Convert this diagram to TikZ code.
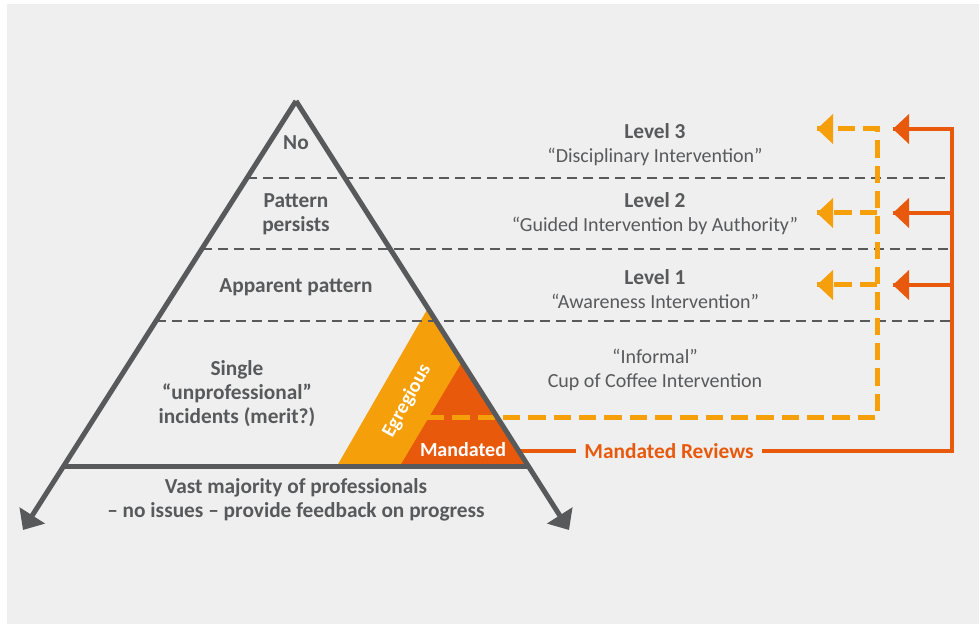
\documentclass[tikz,border=0pt]{standalone}
\usepackage{fontspec}
\setmainfont{Carlito}
\usetikzlibrary{arrows.meta,positioning}
\definecolor{bggray}{HTML}{EFEFEF}
\definecolor{ink}{HTML}{58595B}
\definecolor{mandorange}{HTML}{E8590C}
\definecolor{egyellow}{HTML}{F5A00A}
\newcommand{\lvlhead}[1]{{\fontsize{16}{18}\selectfont\bfseries #1}}
\tikzset{
  tri/.style={ink, line width=3.75pt, line join=miter},
  levelline/.style={ink, line width=2pt, dash pattern=on 7.5pt off 4.5pt},
  egpath/.style={egyellow, line width=3.75pt, dash pattern=on 13pt off 6pt},
  mandpath/.style={mandorange, line width=3pt},
  tiplabel/.style={font=\fontsize{16}{18}\selectfont\bfseries, text=ink, align=center},
  sidelabel/.style={font=\fontsize{15}{18}\selectfont, text=ink, align=center},
  whitelabel/.style={font=\fontsize{15}{18}\selectfont\bfseries, text=white, inner sep=0pt},
}
\begin{document}
\begin{tikzpicture}[x=0.75pt, y=-0.75pt]
  \useasboundingbox (0,0) rectangle (979,624);
  \fill[white] (0,0) rectangle (979,624);
  \fill[bggray] (7,4) rectangle (979,624);

  % pyramid corners
  \coordinate (apex) at (296,101);
  \coordinate (tipL) at (23,530);
  \coordinate (tipR) at (569,530);
  \coordinate (baseL) at (64,466);
  \coordinate (baseR) at (528,466);

  % egregious / mandated wedges
  \fill[egyellow] (428,308) -- (337,466) -- (baseR) -- cycle;
  \fill[mandorange] (462,362) -- (400,466) -- (baseR) -- cycle;

  % level separators
  \draw[levelline] (247,178) -- (950,178);
  \draw[levelline] (202,249) -- (950,249);
  \draw[levelline] (156,321) -- (950,321);

  % egregious route (dashed)
  \coordinate (egstart) at (427,417);
  \coordinate (egcorner) at (877,417);
  \coordinate (egtop) at (877,129);
  \draw[egpath] (egstart) -- (egcorner) -- (egtop)
    -- (817,129) node[coordinate] (eg3) {};
  \foreach \y/\n in {213/2, 285/1}
    \draw[egpath] (877,\y) -- (817,\y) node[coordinate] (eg\n) {};
  \foreach \n in {1,2,3}
    \fill[egyellow] (eg\n) -- ++(16,-15) -- ++(0,30) -- cycle;

  % mandated reviews route
  \node[font=\fontsize{16}{18}\selectfont\bfseries, text=mandorange, inner xsep=6pt]
    (reviews) at (669,451) {Mandated Reviews};
  \draw[mandpath] (519,451) -- (reviews.west);
  \draw[mandpath] (reviews.east) -- (952,451) -- (952,129)
    -- (893,129) node[coordinate] (md3) {};
  \foreach \y/\n in {213/2, 285/1}
    \draw[mandpath] (952,\y) -- (893,\y) node[coordinate] (md\n) {};
  \foreach \n in {1,2,3}
    \fill[mandorange] (md\n) -- ++(16,-15) -- ++(0,30) -- cycle;

  % pyramid
  \draw[tri, -{Triangle[length=13pt,width=22pt]}] (apex) -- (tipL);
  \draw[tri, -{Triangle[length=13pt,width=22pt]}] (apex) -- (tipR);
  \draw[tri] (baseL) -- (baseR);

  % pyramid labels
  \node[tiplabel] (no) at (296,143) {No};
  \node[tiplabel] (persists) at (296,214) {Pattern\\persists};
  \node[tiplabel] (apparent) at (296,287) {Apparent pattern};
  \node[tiplabel] (single) at (237,394) {Single\\“unprofessional”\\incidents (merit?)};
  \node[tiplabel] (vast) at (296,500) {Vast majority of professionals\\– no issues – provide feedback on progress};
  \node[whitelabel, rotate=61] (egregious) at (407,401) {Egregious};
  \node[whitelabel] (mandated) at (463,450) {Mandated};

  % intervention levels
  \node[sidelabel] (lvl3) at (655,145) {\lvlhead{Level 3}\\“Disciplinary Intervention”};
  \node[sidelabel] (lvl2) at (655,214) {\lvlhead{Level 2}\\“Guided Intervention by Authority”};
  \node[sidelabel] (lvl1) at (655,289) {\lvlhead{Level 1}\\“Awareness Intervention”};
  \node[sidelabel] (informal) at (655,370) {“Informal”\\Cup of Coffee Intervention};
\end{tikzpicture}
\end{document}
